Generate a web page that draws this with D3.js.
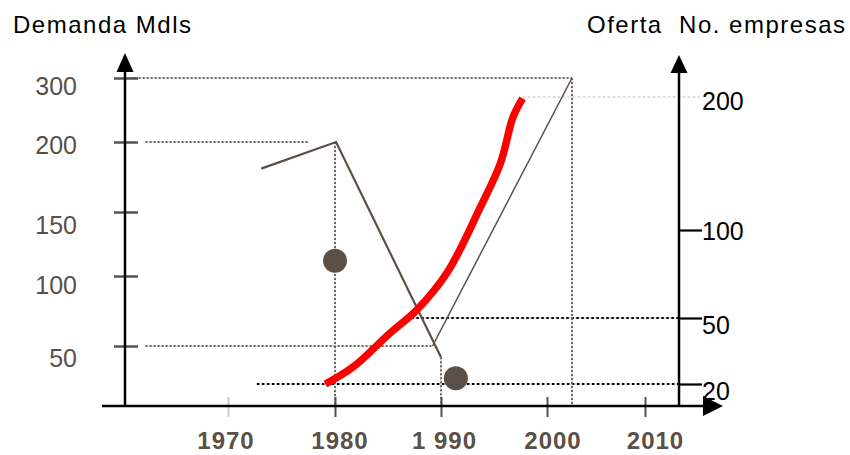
<!DOCTYPE html>
<html>
<head>
<meta charset="utf-8">
<script src="https://cdn.jsdelivr.net/npm/d3@7"></script>
<style>
  html, body { margin: 0; padding: 0; background: #fff; }
  svg { display: block; font-family: "Liberation Sans", Arial, sans-serif; }
</style>
</head>
<body>
<svg id="chart" width="850" height="455"></svg>
<script>
// ---------- data ----------
const xTickYears   = [1970, 1980, 1990, 2000, 2010];
const xTickLabels  = ["1970", "1980", "1 990", "2000", "2010"];
const leftTicks    = [50, 100, 150, 200, 300];
const rightTicks   = [20, 50, 100, 200];

const leftTitle  = "Demanda Mdls";
const rightTitle = "Oferta  No. empresas";

// demand line (left axis)
const demandYears  = [1973.1, 1980.1, 1990.0];
const demandValues = [181, 200, 42];

// thin supply line (left axis)
const supplyYears  = [1989.2, 2002.55];
const supplyValues = [50, 300];

// red curve (right axis)
const redYears  = [1979.1, 1981.7, 1985.2, 1987.7, 1990.6, 1993.7, 1995.6, 1996.8, 1997.7];
const redValues = [20, 27.7, 43.2, 54.5, 76, 117, 150, 185, 199];

// dots (left axis)
const dotYears  = [1980, 1991.4];
const dotValues = [112, 27];

// reference (dotted) lines
const hRefLeftValues  = [300, 200, 50];
const hRefLeftFrom    = [1960.9, 1962.3, 1962.3];
const hRefLeftTo      = [2002.55, 1977.5, 1989.1];
const hRefRightValues = [50, 20];
const hRefRightFrom   = [1987.2, 1972.7];
const vRefYears       = [1980, 2002.55, 1990];
const vRefLeftTop     = [200, 300, 42];
const faintRefValue   = 200;      // right axis
const faintRefFrom    = 1997.7;

// ---------- layout ----------
const svg = d3.select("#chart");
const gray = "#5a5047";
const axisLX = 125, axisRX = 679, axisY = 406;

const x  = d3.scaleLinear().domain(xTickYears).range([228, 335, 441, 547, 645]);
const yL = d3.scaleLinear().domain(leftTicks).range([346, 276, 212, 142, 78]);
const yR = d3.scaleLinear().domain(rightTicks).range([384, 318, 230, 97]);

// label offsets (layout)
const leftLabelDy  = {300: 16, 200: 11, 150: 21, 100: 17, 50: 20};
const rightLabelDy = {200: 12, 100: 9, 50: 15, 20: 15};
const xLabelDx     = {1970: -2.5, 1980: 4.5, 1990: 3, 2000: 5.5, 2010: 10};

// ---------- reference lines ----------
const refs = svg.append("g");
function dotted(x1, y1, x2, y2, color, w, dash) {
  refs.append("line").attr("x1", x1).attr("y1", y1).attr("x2", x2).attr("y2", y2)
    .attr("stroke", "#cfcfcf").attr("stroke-width", 1);
  refs.append("line").attr("x1", x1).attr("y1", y1).attr("x2", x2).attr("y2", y2)
    .attr("stroke", color).attr("stroke-width", w).attr("stroke-dasharray", dash);
}
hRefLeftValues.forEach((v, i) => dotted(x(hRefLeftFrom[i]), yL(v), x(hRefLeftTo[i]), yL(v), "#4a423b", 1.5, "2,2"));
hRefRightValues.forEach((v, i) => dotted(x(hRefRightFrom[i]), yR(v), axisRX, yR(v), "#000", 2, "2.5,2.5"));
vRefYears.forEach((yr, i) => dotted(x(yr), yL(vRefLeftTop[i]), x(yr), axisY, "#4a423b", 1.5, "2,2"));
refs.append("line").attr("x1", x(faintRefFrom)).attr("x2", 700)
  .attr("y1", yR(faintRefValue)).attr("y2", yR(faintRefValue))
  .attr("stroke", "#bdbdbd").attr("stroke-width", 1).attr("stroke-dasharray", "3,2");

// ---------- lines ----------
const demandLine = d3.line().x(d => x(d[0])).y(d => yL(d[1]));
svg.append("path").datum(d3.zip(demandYears, demandValues))
  .attr("d", demandLine).attr("fill", "none").attr("stroke", gray).attr("stroke-width", 2.2);
svg.append("path").datum(d3.zip(supplyYears, supplyValues))
  .attr("d", demandLine).attr("fill", "none").attr("stroke", gray).attr("stroke-width", 1.5);

const redLine = d3.line().x(d => x(d[0])).y(d => yR(d[1])).curve(d3.curveCatmullRom);
svg.append("path").datum(d3.zip(redYears, redValues))
  .attr("d", redLine).attr("fill", "none").attr("stroke", "#ff0000")
  .attr("stroke-width", 7.5).attr("stroke-linecap", "butt").attr("stroke-linejoin", "round");

svg.append("g").selectAll("circle").data(d3.zip(dotYears, dotValues)).join("circle")
  .attr("cx", d => x(d[0])).attr("cy", d => yL(d[1])).attr("r", 12).attr("fill", "#5b5048");

// ---------- axes ----------
// left
const gL = svg.append("g").attr("transform", `translate(${axisLX},0)`)
  .call(d3.axisLeft(yL).tickValues(leftTicks).tickSize(0).tickFormat(d3.format("d")));
gL.select(".domain").remove();
gL.selectAll(".tick line").attr("x1", -11).attr("x2", 13).attr("stroke", gray).attr("stroke-width", 2.5);
gL.selectAll(".tick text").attr("x", -48).attr("dy", null).attr("y", d => leftLabelDy[d])
  .attr("text-anchor", "end").attr("fill", gray)
  .style("font-size", "25px").style("font-family", "'Liberation Sans', Arial, sans-serif");
svg.append("line").attr("x1", axisLX).attr("x2", axisLX).attr("y1", 70).attr("y2", axisY + 1)
  .attr("stroke", "#000").attr("stroke-width", 2.5);
svg.append("path").attr("d", d3.line()([[axisLX - 8.5, 72], [axisLX, 53], [axisLX + 8.5, 72]]) + "Z").attr("fill", "#000");

// right
const gR = svg.append("g").attr("transform", `translate(${axisRX},0)`)
  .call(d3.axisRight(yR).tickValues(rightTicks).tickSize(0).tickFormat(d3.format("d")));
gR.select(".domain").remove();
gR.selectAll(".tick line").attr("x1", 0).attr("x2", d => d === 200 ? 0 : 23)
  .attr("stroke", "#000").attr("stroke-width", 2.2);
gR.selectAll(".tick text").attr("x", 23).attr("dy", null).attr("y", d => rightLabelDy[d])
  .attr("text-anchor", "start").attr("fill", "#000")
  .style("font-size", "25px").style("font-family", "'Liberation Sans', Arial, sans-serif");
svg.append("line").attr("x1", axisRX).attr("x2", axisRX).attr("y1", 71).attr("y2", axisY + 1)
  .attr("stroke", "#000").attr("stroke-width", 2.5);
svg.append("path").attr("d", d3.line()([[axisRX - 8.5, 73], [axisRX, 55], [axisRX + 8.5, 73]]) + "Z").attr("fill", "#000");

// bottom
const gB = svg.append("g").attr("transform", `translate(0,${axisY})`)
  .call(d3.axisBottom(x).tickValues(xTickYears).tickSize(0)
    .tickFormat((d, i) => xTickLabels[i]));
gB.select(".domain").remove();
gB.selectAll(".tick line").attr("y1", -9).attr("y2", 11)
  .attr("stroke", d => d === 1970 ? "#cccccc" : gray).attr("stroke-width", 2);
gB.selectAll(".tick text").attr("y", 43).attr("dy", null).attr("x", d => xLabelDx[d])
  .attr("fill", gray).attr("text-anchor", "middle")
  .style("font-size", "24px").style("font-weight", "bold").style("letter-spacing", "1px")
  .style("font-family", "'Liberation Sans', Arial, sans-serif")
  .style("white-space", "pre");
svg.append("line").attr("x1", 102).attr("x2", 705).attr("y1", axisY).attr("y2", axisY)
  .attr("stroke", "#000").attr("stroke-width", 2.5);
svg.append("path").attr("d", d3.line()([[703, axisY - 10], [723, axisY], [703, axisY + 10]]) + "Z").attr("fill", "#000");

// ---------- titles ----------
svg.append("text").attr("x", 13).attr("y", 33).text(leftTitle)
  .attr("fill", "#000").style("font-size", "24px")
  .attr("textLength", 178).attr("lengthAdjust", "spacing");
svg.append("text").attr("x", 587).attr("y", 33).text(rightTitle)
  .attr("fill", "#000").style("font-size", "24px").style("white-space", "pre")
  .attr("textLength", 258).attr("lengthAdjust", "spacing");
</script>
</body>
</html>
